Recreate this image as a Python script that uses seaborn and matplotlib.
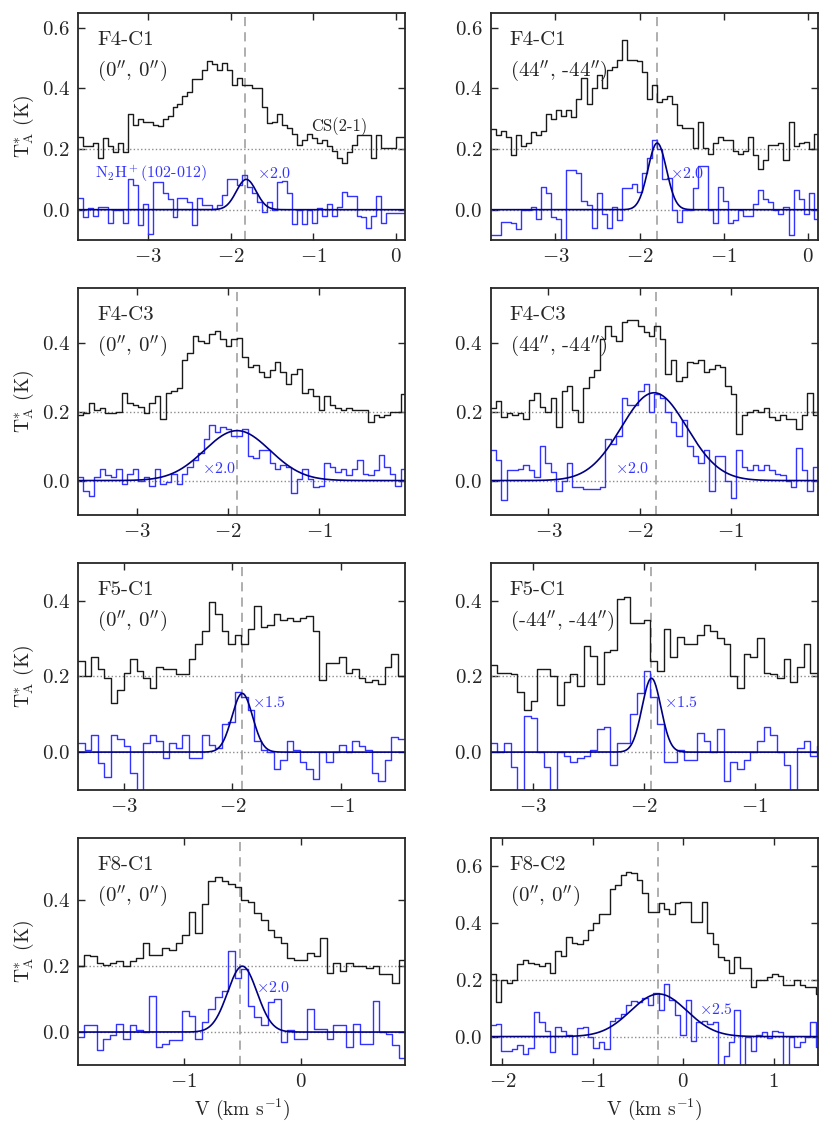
# Spectra of CS(2-1) and N2H+(102-012) towards the F4/F5/F8 cores
# Step spectra + gaussian fit of the N2H+ line, 4 x 2 grid

import numpy as np
import pandas as pd
import matplotlib
matplotlib.use('Agg')
import matplotlib.pyplot as plt
from matplotlib.ticker import MultipleLocator
import seaborn as sns

sns.set_style('ticks')
plt.rcParams['font.family'] = 'serif'
plt.rcParams['font.serif'] = ['cmr10']
plt.rcParams['mathtext.fontset'] = 'cm'
plt.rcParams['axes.formatter.use_mathtext'] = True

# ------------------------------------------------------
# DATA  (T_A* in K, CS already offset by +0.2, N2H+ scaled)
# ------------------------------------------------------

names = ['F4-C1', 'F4-C1', 'F4-C3', 'F4-C3', 'F5-C1', 'F5-C1', 'F8-C1', 'F8-C2']
offsets = ['(0$^{\\prime\\prime}$, 0$^{\\prime\\prime}$)', '(44$^{\\prime\\prime}$, -44$^{\\prime\\prime}$)',
           '(0$^{\\prime\\prime}$, 0$^{\\prime\\prime}$)', '(44$^{\\prime\\prime}$, -44$^{\\prime\\prime}$)',
           '(0$^{\\prime\\prime}$, 0$^{\\prime\\prime}$)', '(-44$^{\\prime\\prime}$, -44$^{\\prime\\prime}$)',
           '(0$^{\\prime\\prime}$, 0$^{\\prime\\prime}$)', '(0$^{\\prime\\prime}$, 0$^{\\prime\\prime}$)']
scales = ['2.0', '2.0', '2.0', '2.0', '1.5', '1.5', '2.0', '2.5']

# first channel edge and channel width (km/s)
v_start = [-3.84, -3.77, -3.645, -3.636, -3.42, -3.38, -1.909, -2.133]
chan_width = [0.06, 0.06, 0.06, 0.06, 0.06, 0.06, 0.056, 0.06]

cs_1 = [0.24, 0.21, 0.21, 0.22, 0.17, 0.235, 0.21, 0.19, 0.22, 0.19,
        0.315, 0.28, 0.30, 0.29, 0.29, 0.28, 0.275, 0.30, 0.31, 0.34,
        0.35, 0.375, 0.39, 0.43, 0.43, 0.46, 0.49, 0.48, 0.46, 0.485,
        0.46, 0.41, 0.435, 0.41, 0.41, 0.40, 0.40, 0.34, 0.285, 0.29,
        0.315, 0.28, 0.27, 0.25, 0.215, 0.23, 0.25, 0.235, 0.22, 0.23,
        0.21, 0.195, 0.17, 0.155, 0.19, 0.215, 0.245, 0.245, 0.245, 0.17,
        0.245, 0.205, 0.205, 0.205, 0.24, 0.24]
n2h_1 = [0.04, -0.025, 0.005, -0.02, 0.01, 0.01, -0.045, 0.0, 0.0, -0.045,
         0.10, 0.08, -0.05, 0.02, -0.08, 0.09, 0.09, 0.056, 0.036, -0.024,
         0.04, 0.04, 0.025, -0.05, 0.04, 0.016, 0.015, 0.003, 0.015, 0.05,
         0.10, 0.10, 0.08, 0.115, 0.075, 0.055, 0.025, -0.008, 0.025, 0.0,
         0.093, 0.095, 0.056, -0.046, 0.0, -0.046, 0.0, -0.045, 0.005, -0.02,
         0.02, -0.02, 0.01, 0.06, 0.045, 0.045, -0.02, -0.025, -0.06, -0.02,
         0.045, -0.045, -0.01, -0.01, -0.01, -0.01]

cs_2 = [0.265, 0.245, 0.26, 0.24, 0.18, 0.245, 0.21, 0.22, 0.255, 0.245,
        0.26, 0.315, 0.30, 0.33, 0.31, 0.33, 0.305, 0.365, 0.435, 0.35,
        0.40, 0.445, 0.40, 0.46, 0.47, 0.495, 0.56, 0.495, 0.495, 0.49,
        0.455, 0.365, 0.41, 0.355, 0.365, 0.375, 0.35, 0.28, 0.27, 0.27,
        0.205, 0.29, 0.205, 0.185, 0.22, 0.24, 0.23, 0.23, 0.195, 0.185,
        0.195, 0.24, 0.18, 0.135, 0.165, 0.215, 0.215, 0.22, 0.165, 0.29,
        0.21, 0.22, 0.225, 0.2, 0.25, 0.25]
n2h_2 = [-0.085, -0.085, -0.04, -0.04, -0.045, -0.065, 0.0, 0.0, 0.01, -0.03,
         0.075, 0.055, -0.025, -0.03, -0.12, 0.13, 0.13, 0.12, 0.03, 0.015,
         -0.06, 0.055, -0.015, -0.06, 0.01, -0.035, 0.07, 0.07, 0.085, 0.06,
         0.12, 0.17, 0.23, 0.20, 0.10, 0.105, 0.0, -0.04, 0.0, 0.0,
         0.07, 0.145, 0.145, 0.0, -0.045, 0.075, 0.03, -0.045, -0.035, 0.0,
         -0.02, -0.02, 0.02, 0.065, 0.035, 0.025, 0.0, -0.015, 0.01, -0.085,
         0.065, 0.035, -0.015, 0.055, -0.03, -0.03]

cs_3 = [0.19, 0.195, 0.225, 0.205, 0.21, 0.195, 0.195, 0.2, 0.255, 0.225,
        0.22, 0.215, 0.195, 0.225, 0.245, 0.18, 0.255, 0.26, 0.27, 0.35,
        0.37, 0.42, 0.405, 0.40, 0.425, 0.435, 0.41, 0.39, 0.41, 0.415,
        0.36, 0.33, 0.335, 0.315, 0.30, 0.32, 0.345, 0.315, 0.28, 0.31,
        0.325, 0.255, 0.265, 0.245, 0.205, 0.245, 0.22, 0.21, 0.205, 0.21,
        0.205, 0.205, 0.205, 0.17, 0.19, 0.185, 0.19, 0.2, 0.2, 0.25]
n2h_3 = [0.01, -0.03, -0.045, 0.01, 0.035, 0.015, 0.01, 0.035, -0.01, 0.02,
         0.035, 0.0, 0.01, -0.015, 0.035, -0.01, -0.005, 0.02, -0.01, 0.02,
         0.04, 0.06, 0.08, 0.12, 0.16, 0.14, 0.155, 0.15, 0.13, 0.13,
         0.15, 0.07, 0.065, 0.09, 0.09, 0.05, 0.035, 0.045, 0.04, -0.035,
         0.005, 0.035, 0.005, -0.02, -0.015, 0.05, 0.04, 0.025, 0.035, 0.015,
         0.035, 0.06, 0.02, 0.015, 0.03, 0.075, 0.04, 0.02, -0.015, 0.035]

cs_4 = [0.21, 0.23, 0.185, 0.195, 0.19, 0.195, 0.18, 0.235, 0.255, 0.215,
        0.2, 0.24, 0.155, 0.26, 0.275, 0.205, 0.17, 0.27, 0.30, 0.32,
        0.41, 0.45, 0.42, 0.405, 0.46, 0.465, 0.465, 0.45, 0.43, 0.42,
        0.45, 0.41, 0.31, 0.35, 0.29, 0.30, 0.345, 0.34, 0.35, 0.315,
        0.325, 0.335, 0.33, 0.275, 0.25, 0.135, 0.19, 0.2, 0.205, 0.2,
        0.21, 0.185, 0.175, 0.19, 0.18, 0.18, 0.15, 0.19, 0.255, 0.19]
n2h_4 = [0.09, 0.06, -0.055, 0.03, 0.03, 0.035, 0.045, 0.03, 0.01, 0.10,
         0.05, 0.025, -0.03, 0.0, 0.05, -0.02, -0.02, -0.025, -0.025, -0.025,
         -0.02, 0.12, 0.105, 0.13, 0.24, 0.22, 0.22, 0.26, 0.28, 0.20,
         0.25, 0.24, 0.20, 0.17, 0.13, 0.175, 0.10, 0.07, 0.05, 0.09,
         -0.03, 0.07, 0.07, 0.0, -0.05, 0.09, 0.04, 0.03, 0.045, 0.03,
         0.045, 0.03, 0.02, 0.015, 0.0, -0.02, 0.095, 0.03, -0.03, 0.04]

cs_5 = [0.24, 0.2, 0.25, 0.22, 0.195, 0.13, 0.165, 0.21, 0.245, 0.215,
        0.195, 0.17, 0.225, 0.22, 0.22, 0.205, 0.205, 0.245, 0.285, 0.32,
        0.395, 0.365, 0.32, 0.285, 0.31, 0.285, 0.325, 0.385, 0.33, 0.335,
        0.365, 0.35, 0.355, 0.345, 0.355, 0.36, 0.32, 0.19, 0.235, 0.235,
        0.25, 0.21, 0.22, 0.195, 0.185, 0.19, 0.18, 0.225, 0.26, 0.2]
n2h_5 = [0.025, 0.005, 0.045, -0.03, -0.065, 0.045, 0.035, 0.015, -0.055, -0.12,
         0.025, 0.045, 0.03, -0.015, 0.025, 0.01, 0.045, -0.015, -0.015, 0.045,
         0.02, 0.01, 0.075, 0.08, 0.16, 0.145, 0.11, 0.03, 0.005, 0.0,
         -0.045, -0.02, 0.03, 0.005, -0.025, -0.045, -0.07, 0.0, -0.025, 0.0,
         0.02, 0.0, 0.03, 0.015, 0.005, -0.055, -0.075, -0.02, 0.04, 0.035]

cs_6 = [0.23, 0.21, 0.21, 0.205, 0.16, 0.11, 0.135, 0.22, 0.22, 0.2,
        0.125, 0.185, 0.205, 0.175, 0.28, 0.255, 0.18, 0.265, 0.27, 0.405,
        0.41, 0.34, 0.34, 0.35, 0.24, 0.215, 0.325, 0.25, 0.305, 0.285,
        0.285, 0.31, 0.335, 0.32, 0.30, 0.285, 0.2, 0.17, 0.26, 0.25,
        0.3, 0.21, 0.205, 0.195, 0.245, 0.185, 0.225, 0.285, 0.21, 0.21]
n2h_6 = [0.025, 0.0, 0.025, -0.04, -0.12, 0.095, 0.09, 0.0, -0.04, -0.12,
         0.0, -0.01, -0.025, -0.015, -0.01, 0.005, 0.06, 0.065, -0.035, 0.025,
         0.025, 0.1, 0.155, 0.215, 0.145, 0.075, -0.025, -0.025, 0.005, -0.02,
         -0.02, 0.05, 0.03, 0.0, 0.06, -0.075, -0.025, -0.045, -0.02, 0.0,
         0.03, 0.065, 0.045, 0.0, -0.035, -0.12, 0.01, 0.03, -0.01, 0.015]

cs_7 = [0.2, 0.235, 0.23, 0.21, 0.205, 0.21, 0.215, 0.2, 0.215, 0.225,
        0.27, 0.235, 0.235, 0.255, 0.25, 0.27, 0.295, 0.365, 0.30, 0.39,
        0.46, 0.47, 0.46, 0.45, 0.44, 0.40, 0.395, 0.36, 0.34, 0.31,
        0.29, 0.27, 0.225, 0.22, 0.22, 0.24, 0.23, 0.285, 0.18, 0.21,
        0.185, 0.21, 0.2, 0.2, 0.195, 0.2, 0.175, 0.175, 0.15, 0.22]
n2h_7 = [-0.015, 0.02, 0.02, -0.055, -0.02, -0.01, 0.025, -0.02, 0.02, 0.005,
         0.0, 0.11, -0.045, -0.035, -0.025, -0.025, 0.065, 0.05, -0.02, 0.03,
         0.07, 0.105, 0.125, 0.245, 0.165, 0.19, 0.08, 0.045, 0.02, 0.09,
         0.1, -0.03, 0.005, -0.02, -0.02, 0.07, 0.01, 0.01, -0.02, 0.02,
         0.02, -0.045, 0.025, -0.035, -0.035, 0.095, 0.0, -0.005, -0.04, -0.08]

cs_8 = [0.22, 0.12, 0.2, 0.19, 0.2, 0.255, 0.27, 0.26, 0.255, 0.25,
        0.26, 0.225, 0.30, 0.285, 0.35, 0.33, 0.325, 0.34, 0.375, 0.40,
        0.43, 0.43, 0.52, 0.535, 0.57, 0.58, 0.575, 0.55, 0.505, 0.44,
        0.44, 0.47, 0.45, 0.43, 0.47, 0.475, 0.475, 0.405, 0.405, 0.475,
        0.365, 0.325, 0.28, 0.27, 0.225, 0.28, 0.24, 0.24, 0.175, 0.2,
        0.2, 0.21, 0.22, 0.215, 0.18, 0.18, 0.2, 0.18, 0.175, 0.175,
        0.15]
n2h_8 = [0.04, 0.045, -0.05, -0.05, -0.045, -0.03, -0.06, -0.04, 0.085, 0.05,
         0.02, -0.055, 0.035, 0.02, 0.005, -0.06, 0.03, 0.035, 0.0, -0.04,
         -0.02, -0.045, 0.055, 0.065, 0.08, 0.11, 0.125, 0.12, 0.135, 0.11,
         0.155, 0.095, 0.185, 0.13, 0.075, 0.005, 0.13, -0.015, 0.05, 0.055,
         0.045, 0.05, -0.12, -0.07, -0.02, 0.095, -0.12, 0.0, -0.05, 0.005,
         0.015, -0.005, 0.02, 0.015, -0.12, 0.0, -0.035, -0.02, 0.0, 0.05,
         -0.035]

# gaussian fit of N2H+ : amplitude, centre, sigma
fit_amp = [0.10, 0.22, 0.145, 0.255, 0.155, 0.195, 0.20, 0.15]
fit_v0 = [-1.81, -1.79, -1.90, -1.84, -1.91, -1.93, -0.50, -0.27]
fit_sig = [0.12, 0.11, 0.36, 0.36, 0.095, 0.085, 0.125, 0.31]

# systemic velocity (dashed line)
v_sys = [-1.82, -1.79, -1.90, -1.82, -1.91, -1.93, -0.52, -0.28]

# axis ranges
x_lims = [(-3.84, 0.11), (-3.77, 0.12), (-3.645, -0.055), (-3.636, -0.04),
          (-3.42, -0.41), (-3.38, -0.43), (-1.90, 0.89), (-2.13, 1.49)]
y_tops = [0.65, 0.65, 0.56, 0.56, 0.50, 0.50, 0.59, 0.70]

# position of the "x scale" note (v, T)
scale_pos = [(-1.68, 0.118), (-1.64, 0.118), (-2.29, 0.034), (-2.27, 0.034),
             (-1.82, 0.13), (-1.82, 0.13), (-0.38, 0.134), (0.18, 0.094)]

cs_all = [cs_1, cs_2, cs_3, cs_4, cs_5, cs_6, cs_7, cs_8]
n2h_all = [n2h_1, n2h_2, n2h_3, n2h_4, n2h_5, n2h_6, n2h_7, n2h_8]

# ------------------------------------------------------
# PLOT
# ------------------------------------------------------

cs_color = '#1a1a1a'
n2h_color = '#3333ff'
fit_color = '#000080'

fig, axes = plt.subplots(4, 2, figsize=(8.3, 11.36), dpi=100)
fig.subplots_adjust(left=0.094, right=0.9855, top=0.9888, bottom=0.0625,
                    wspace=0.26, hspace=0.21)

for i, ax in enumerate(axes.flat):
    n = len(cs_all[i])
    edges = v_start[i] + chan_width[i] * np.arange(n + 1)
    df = pd.DataFrame({'v': edges,
                       'cs': np.append(cs_all[i], cs_all[i][-1]),
                       'n2h': np.append(n2h_all[i], n2h_all[i][-1])})

    # reference levels
    ax.axhline(0.2, color='0.55', ls=':', lw=1)
    ax.axhline(0.0, color='0.55', ls=':', lw=1)
    ax.axvline(v_sys[i], color='0.6', ls=(0, (6, 4)), lw=1.1)

    sns.lineplot(data=df, x='v', y='cs', ax=ax, color=cs_color, lw=1.0,
                 drawstyle='steps-post', estimator=None)
    sns.lineplot(data=df, x='v', y='n2h', ax=ax, color=n2h_color, lw=1.0,
                 drawstyle='steps-post', estimator=None)

    # gaussian fit
    vv = np.linspace(x_lims[i][0], x_lims[i][1], 500)
    gfit = fit_amp[i] * np.exp(-0.5 * ((vv - fit_v0[i]) / fit_sig[i]) ** 2)
    sns.lineplot(x=vv, y=gfit, ax=ax, color=fit_color, lw=1.2, estimator=None)

    ax.set_xlim(x_lims[i])
    ax.set_ylim(-0.1, y_tops[i])
    ax.xaxis.set_major_locator(MultipleLocator(1))
    ax.yaxis.set_major_locator(MultipleLocator(0.2))
    ax.tick_params(direction='in', top=True, right=True, length=5, width=1,
                   labelsize=15, pad=6)
    for sp in ax.spines.values():
        sp.set_linewidth(1.3)

    ax.text(0.058, 0.88, names[i], transform=ax.transAxes, fontsize=15,
            va='center', ha='left')
    ax.text(0.058, 0.745, offsets[i], transform=ax.transAxes, fontsize=15,
            va='center', ha='left')
    ax.text(scale_pos[i][0], scale_pos[i][1], '$\\times$' + scales[i],
            color=n2h_color, fontsize=11.5, va='center', ha='left')

    ax.set_xlabel('V (km s$^{-1}$)' if i >= 6 else '', fontsize=14)
    ax.set_ylabel('T$_{\\rm A}^{*}$ (K)' if i % 2 == 0 else '', fontsize=14)

# line labels in the first panel
axes[0, 0].text(-0.69, 0.273, 'CS(2-1)', fontsize=12, ha='center', va='center')
axes[0, 0].text(-3.63, 0.118, 'N$_2$H$^+$(102-012)', color=n2h_color,
                fontsize=11.5, ha='left', va='center')

plt.savefig('out.png', dpi=100)
plt.close('all')
